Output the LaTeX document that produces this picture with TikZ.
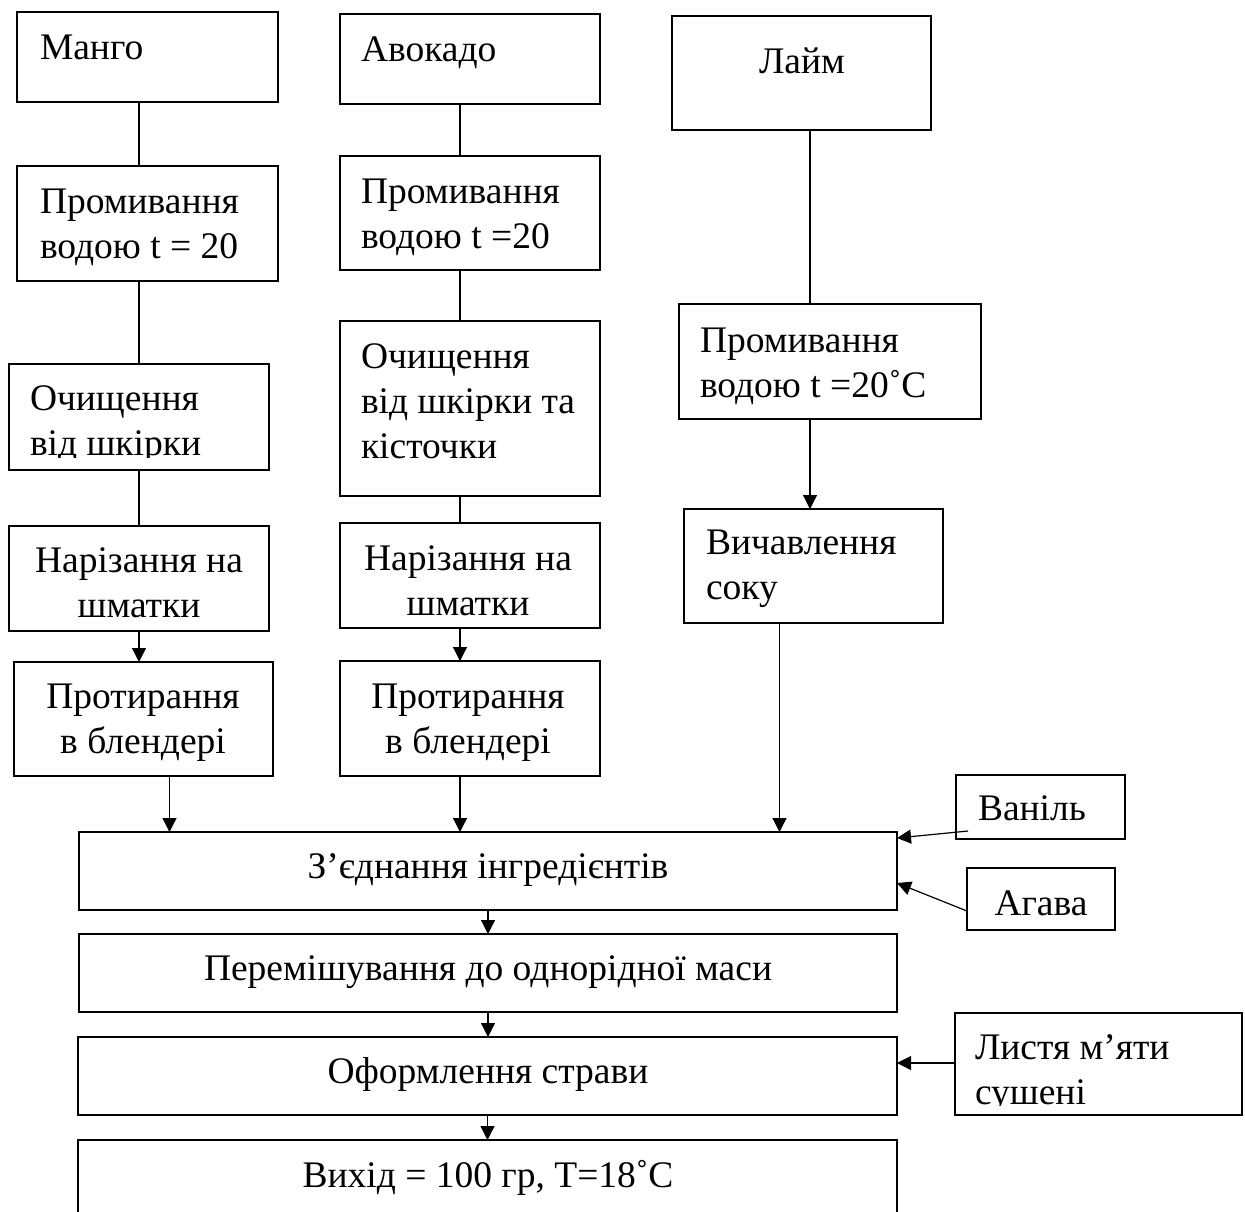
\documentclass[tikz,border=0pt]{standalone}
\usepackage{fontspec}
\setmainfont{Liberation Serif}
\usetikzlibrary{arrows.meta,calc}
\newcommand\mybox[6][]{\node[box,#1,minimum width={(#5-#3)*1pt},minimum height={(#6-#4)*1pt}] (#2) at (#3,#4) {};}
\begin{document}
\begin{tikzpicture}[x=1pt,y=-1pt,
  box/.style={draw,line width=2.2pt,anchor=north west,inner sep=0pt,outer sep=0pt},
  txt/.style={inner sep=0pt,outer sep=0pt,font=\fontsize{37.5}{45}\selectfont},
  lt/.style={txt,anchor=west,align=left},
  ct/.style={txt,anchor=center,align=center},
  link/.style={line width=1.2pt},
  arr/.style={line width=1.2pt,-{Triangle[length=14pt,width=14pt]}}]
\clip (0,0) rectangle (1245,1211);
\fill[white] (0,0) rectangle (1245,1211);
% boxes
\mybox{mango}{17}{12}{278}{102}
\mybox{mwash}{17}{166}{278}{281}
\mybox{mpeel}{9}{364}{269}{470}
\mybox{mcut}{9}{526}{269}{631}
\mybox{mblend}{14}{662}{273}{776}
\mybox{avo}{340}{14}{600}{104}
\mybox{awash}{340}{156}{600}{270}
\mybox{apeel}{340}{321}{600}{496}
\mybox{acut}{340}{523}{600}{628}
\mybox{ablend}{340}{661}{600}{776}
\mybox{lime}{672}{16}{931}{130}
\mybox{lwash}{679}{304}{981}{419}
\mybox{juice}{684}{509}{943}{623}
\mybox{vanil}{956}{775}{1125}{839}
\mybox{agava}{967}{868}{1115}{930}
\mybox{mint}{955}{1013}{1242}{1115}
\mybox{comb}{79}{832}{897}{910}
\mybox{mix}{79}{934}{897}{1012}
\mybox{decor}{78}{1037}{897}{1115}
\mybox{out}{78}{1140}{897}{1240}
% texts
\node[lt] (mangot) at (40,50) {\strut Манго\strut};
\node[lt] (avot) at (361,52) {\strut Авокадо\strut};
\node[ct] (limet) at (802,64) {\strut Лайм\strut};
\node[lt] (mwasht) at (40,227) {\strut Промивання\\водою t = 20\strut};
\begin{scope}
\clip (9,364) rectangle (269,457);
\node[lt] (mpeelt) at (30,424) {\strut Очищення\\від шкірки\strut};
\end{scope}
\node[lt] (awasht) at (361,217) {\strut Промивання\\водою t =20\strut};
\node[lt] (apeelt) at (361,404) {\strut Очищення\\від шкірки та\\кісточки\strut};
\node[ct] (mcutt) at (139,586) {\strut Нарізання на\\шматки\strut};
\node[ct] (acutt) at (468,584) {\strut Нарізання на\\шматки\strut};
\node[ct] (mblendt) at (143,722) {\strut Протирання\\в блендері\strut};
\node[ct] (ablendt) at (468,722) {\strut Протирання\\в блендері\strut};
\node[lt] (lwasht) at (700,366) {\strut Промивання\\водою t =20˚C\strut};
\node[lt] (juicet) at (706,568) {\strut Вичавлення\\соку\strut};
\node[lt] (vanilt) at (978,811) {\strut Ваніль\strut};
\node[ct] (agavat) at (1041,906) {\strut Агава\strut};
\begin{scope}
\clip (955,1013) rectangle (1242,1105);
\node[lt] (mintt) at (975,1073) {\strut Листя м’яти\\сушені\strut};
\end{scope}
\node[ct] (combt) at (488,869) {\strut З’єднання інгредієнтів\strut};
\node[ct] (mixt) at (488,971) {\strut Перемішування до однорідної маси\strut};
\node[ct] (decort) at (488,1074) {\strut Оформлення страви\strut};
\node[ct] (outt) at (488,1178) {\strut Вихід = 100 гр, T=18˚C\strut};
% connectors: mango column
\draw[link] (mango.south -| mpeel.north) -- (mwash.north -| mpeel.north);
\draw[link] (mwash.south -| mpeel.north) -- (mpeel.north);
\draw[link] (mpeel.south) -- (mcut.north);
\draw[arr] (mcut.south) -- (mblend.north -| mcut.south);
\draw[arr] ([xshift=26pt]mblend.south) -- ([xshift=26pt]mblend.south |- comb.north);
% avocado column
\coordinate (ax) at ([xshift=-10pt]avo.south);
\draw[link] (ax) -- (ax |- awash.north);
\draw[link] (ax |- awash.south) -- (ax |- apeel.north);
\draw[link] (ax |- apeel.south) -- (ax |- acut.north);
\draw[arr] (ax |- acut.south) -- (ax |- ablend.north);
\draw[arr] (ax |- ablend.south) -- (ax |- comb.north);
% lime column
\coordinate (lx) at ([xshift=8.5pt]lime.south);
\draw[link] (lx) -- (lx |- lwash.north);
\draw[arr] (lx |- lwash.south) -- (lx |- juice.north);
\draw[arr] ([xshift=-34pt]juice.south) -- ([xshift=-34pt]juice.south |- comb.north);
% main column
\draw[arr] (comb.south) -- (mix.north);
\draw[arr] (mix.south) -- (decor.north -| mix.south);
\draw[arr] (decor.south) -- (out.north -| decor.south);
% side inputs
\coordinate (vs) at ([xshift=12pt,yshift=8pt]vanil.south west);
\coordinate (ve) at ([yshift=-6pt]comb.north east);
\draw[arr] (vs) -- (ve);
\coordinate (gs) at ([yshift=19pt]agava.south west);
\coordinate (ge) at ([yshift=-51pt]comb.north east);
\draw[arr] (gs) -- (ge);
\coordinate (ms) at ([yshift=-50pt]mint.north west);
\draw[arr] (ms) -- (ms -| decor.east);
\end{tikzpicture}
\end{document}
